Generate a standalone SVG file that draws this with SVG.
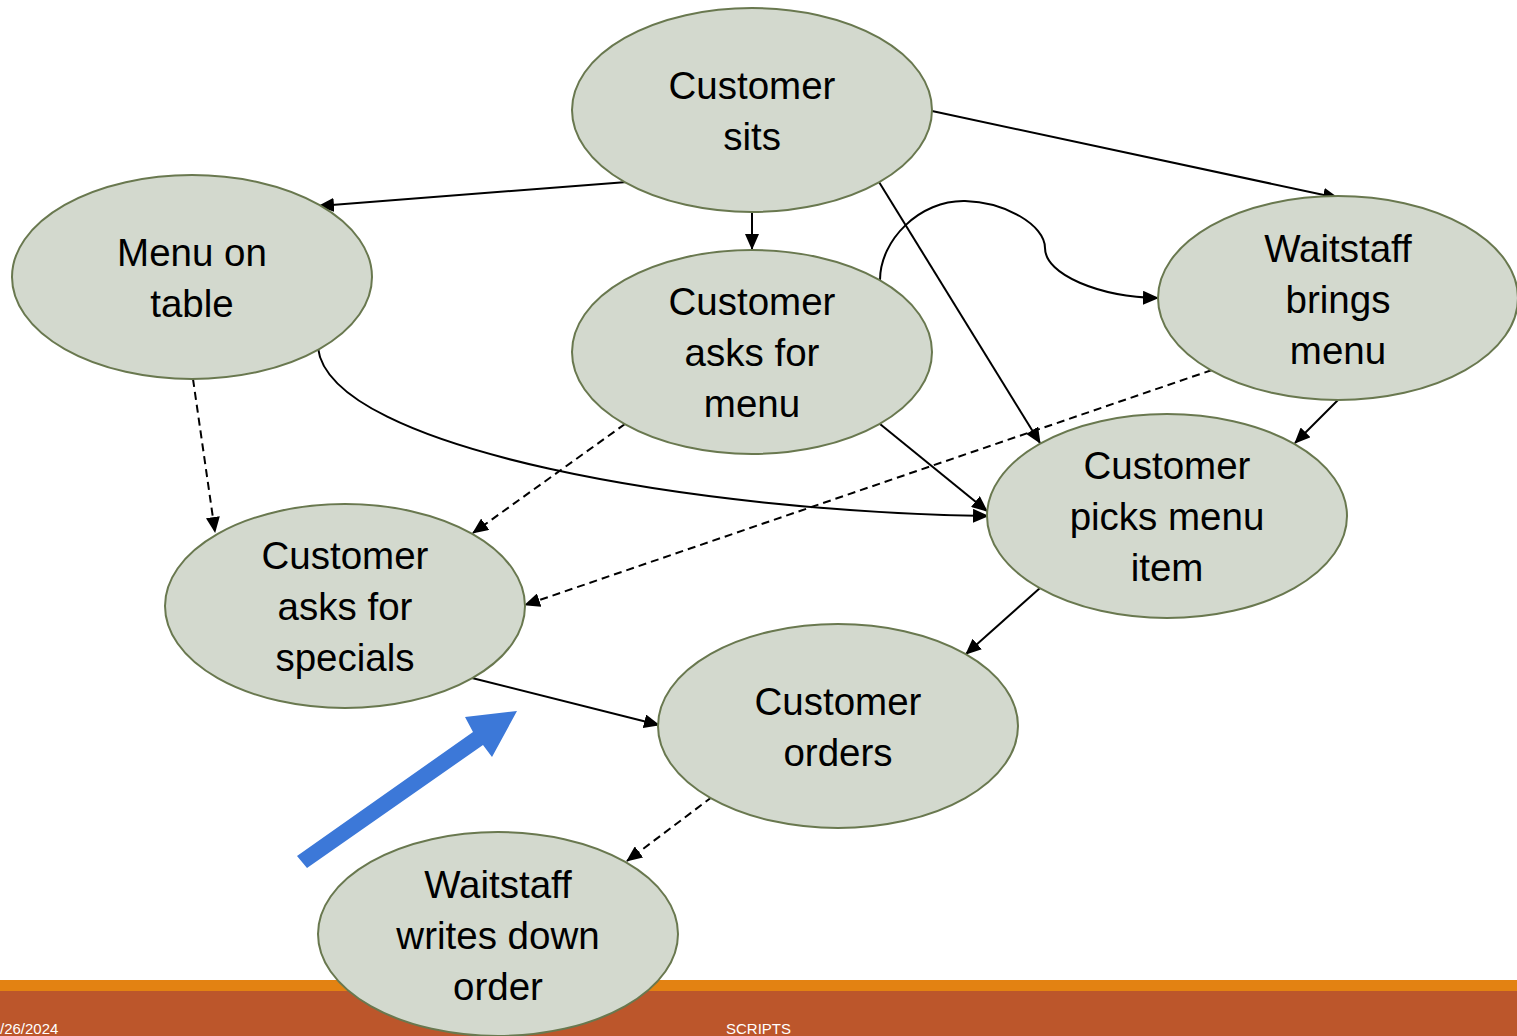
<svg xmlns="http://www.w3.org/2000/svg" width="1517" height="1036" viewBox="0 0 1517 1036">
<style>
.n{fill:#D3D9CE;stroke:#69784F;stroke-width:2}
.t{font-family:"Liberation Sans","Open Sans",sans-serif;font-size:38.5px;fill:#000;text-anchor:middle}
.c{fill:none;stroke:#000;stroke-width:2;marker-end:url(#ah)}
.d{stroke-dasharray:8,5}
.f{font-family:"Liberation Sans",sans-serif;font-size:15px;fill:#fff}
</style>
<defs>
<marker id="ah" markerUnits="userSpaceOnUse" markerWidth="16" markerHeight="14" refX="15" refY="7" orient="auto">
<path d="M0,0 L16,7 L0,14 Z" fill="#000"/>
</marker>
</defs>
<rect width="1517" height="1036" fill="#fff"/>
<g id="footer">
<rect x="0" y="980" width="1517" height="11" fill="#E38212"/>
<rect x="0" y="991" width="1517" height="45" fill="#BC562B"/>
<text class="f" x="0" y="1034">/26/2024</text>
<text class="f" x="726" y="1034">SCRIPTS</text>
</g>
<g id="connectors">
<line class="c" x1="627" y1="182" x2="319" y2="206"/>
<line class="c" x1="752" y1="212" x2="752" y2="249"/>
<line class="c" x1="932" y1="111" x2="1338" y2="198"/>
<line class="c" x1="879" y1="182" x2="1040" y2="443"/>
<path class="c" d="M880,280 C880,240 920,200 965,201 C1005,202 1045,225 1045,248 C1045,275 1100,297 1158,298"/>
<path class="c" d="M318,348 C330,450 700,512 988,516"/>
<line class="c d" x1="193" y1="379" x2="215" y2="532"/>
<line class="c d" x1="625" y1="424" x2="473" y2="533"/>
<line class="c" x1="880" y1="424" x2="987" y2="511"/>
<line class="c d" x1="1212" y1="370" x2="525" y2="605"/>
<line class="c" x1="1338" y1="400" x2="1295" y2="443"/>
<line class="c" x1="1040" y1="588" x2="966" y2="654"/>
<line class="c" x1="472" y1="678" x2="659" y2="725"/>
<line class="c d" x1="712" y1="797" x2="627" y2="861"/>
</g>
<g id="n1"><ellipse class="n" cx="752" cy="110" rx="180" ry="102"/><text class="t" x="752" y="99">Customer</text><text class="t" x="752" y="150">sits</text></g>
<g id="n2"><ellipse class="n" cx="192" cy="277" rx="180" ry="102"/><text class="t" x="192" y="266">Menu on</text><text class="t" x="192" y="317">table</text></g>
<g id="n3"><ellipse class="n" cx="752" cy="352" rx="180" ry="102"/><text class="t" x="752" y="315">Customer</text><text class="t" x="752" y="366">asks for</text><text class="t" x="752" y="417">menu</text></g>
<g id="n4"><ellipse class="n" cx="1338" cy="298" rx="180" ry="102"/><text class="t" x="1338" y="262">Waitstaff</text><text class="t" x="1338" y="313">brings</text><text class="t" x="1338" y="364">menu</text></g>
<g id="n5"><ellipse class="n" cx="1167" cy="516" rx="180" ry="102"/><text class="t" x="1167" y="479">Customer</text><text class="t" x="1167" y="530">picks menu</text><text class="t" x="1167" y="581">item</text></g>
<g id="n6"><ellipse class="n" cx="345" cy="606" rx="180" ry="102"/><text class="t" x="345" y="569">Customer</text><text class="t" x="345" y="620">asks for</text><text class="t" x="345" y="671">specials</text></g>
<g id="n7"><ellipse class="n" cx="838" cy="726" rx="180" ry="102"/><text class="t" x="838" y="715">Customer</text><text class="t" x="838" y="766">orders</text></g>
<g id="n8"><ellipse class="n" cx="498" cy="934" rx="180" ry="102"/><text class="t" x="498" y="898">Waitstaff</text><text class="t" x="498" y="949">writes down</text><text class="t" x="498" y="1000">order</text></g>
<g id="blue-arrow"><polygon points="297,856 473,732 465,717 517,711 492,757 483,745 307,868" fill="#3C78D8"/></g>
</svg>
